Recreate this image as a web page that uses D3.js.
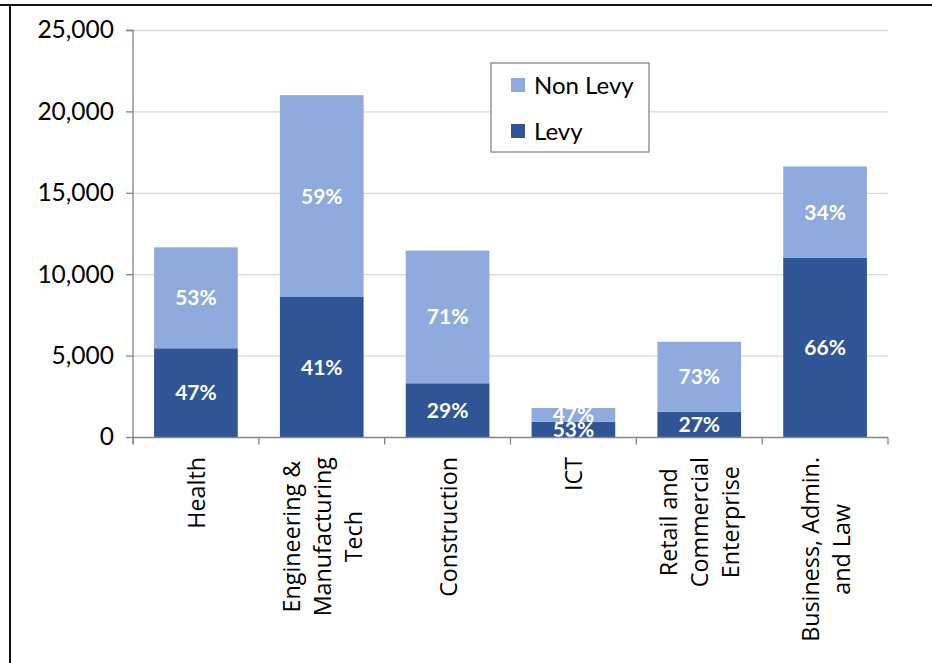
<!DOCTYPE html>
<html><head><meta charset="utf-8">
<script src="https://cdn.jsdelivr.net/npm/d3@7"></script>
<style>body{margin:0;background:#fff}svg{display:block}</style>
</head><body>
<svg id="chart" width="932" height="663"></svg>
<script>
const categories = [
  ["Health"],
  ["Engineering &", "Manufacturing", "Tech"],
  ["Construction"],
  ["ICT"],
  ["Retail and", "Commercial", "Enterprise"],
  ["Business, Admin.", "and Law"]
];
const levy    = [5450, 8600, 3300, 940, 1550, 11000];
const nonLevy = [6200, 12400, 8150, 840, 4300, 5620];
const levyPct    = ["47%", "41%", "29%", "53%", "27%", "66%"];
const nonLevyPct = ["53%", "59%", "71%", "47%", "73%", "34%"];
const yTicks = [0, 5000, 10000, 15000, 20000, 25000];
const seriesNames = ["Non Levy", "Levy"];
const colors = {"Levy": "#2F5597", "Non Levy": "#8FAADC"};

const svg = d3.select("#chart");
const pLeft = 133, pRight = 888, pTop = 30, pBottom = 437;

// outer frame
svg.append("line").attr("x1", 0).attr("x2", 932).attr("y1", 5).attr("y2", 5).attr("stroke", "#111").attr("stroke-width", 2);
svg.append("line").attr("x1", 10).attr("x2", 10).attr("y1", 4).attr("y2", 663).attr("stroke", "#111").attr("stroke-width", 2);

const x = d3.scaleBand().domain(d3.range(categories.length)).range([pLeft, pRight]).paddingInner(0.335).paddingOuter(0.1675);
const y = d3.scaleLinear().domain([0, 25000]).range([pBottom, pTop]);

// gridlines
svg.append("g").selectAll("line").data(yTicks.filter(d => d > 0)).join("line")
  .attr("x1", pLeft).attr("x2", pRight).attr("y1", d => y(d) + 0.5).attr("y2", d => y(d) + 0.5)
  .attr("stroke", "#d9d9d9").attr("stroke-width", 1.3);

// y axis
const yAxis = d3.axisLeft(y).tickValues(yTicks).tickSize(7).tickPadding(12).tickFormat(d3.format(","));
const gy = svg.append("g").attr("transform", `translate(${pLeft},0)`).call(yAxis);
gy.select(".domain").attr("stroke", "#868686").attr("stroke-width", 1.3).attr("d", `M-7,${pTop+0.5}H0V${pBottom+7}`);
gy.selectAll(".tick line").attr("stroke", "#868686").attr("stroke-width", 1.3);
gy.selectAll(".tick text").attr("font-family", "Lato, sans-serif").attr("font-size", 24.5).attr("fill", "#000");

// bars
const stacked = categories.map((c, i) => ({i, levy: levy[i], non: nonLevy[i]}));
const g = svg.append("g");
g.selectAll("rect.levy").data(stacked).join("rect").attr("class", "levy")
  .attr("x", d => x(d.i)).attr("width", x.bandwidth())
  .attr("y", d => y(d.levy)).attr("height", d => y(0) - y(d.levy))
  .attr("fill", colors["Levy"]);
g.selectAll("rect.non").data(stacked).join("rect").attr("class", "non")
  .attr("x", d => x(d.i)).attr("width", x.bandwidth())
  .attr("y", d => y(d.levy + d.non)).attr("height", d => y(d.levy) - y(d.levy + d.non))
  .attr("fill", colors["Non Levy"]);

// x axis
const gx = svg.append("g").attr("transform", `translate(0,${pBottom + 0.5})`);
gx.append("line").attr("x1", pLeft).attr("x2", pRight).attr("stroke", "#868686").attr("stroke-width", 1.3);
const edges = d3.range(categories.length + 1).map(i => pLeft + i * (pRight - pLeft) / categories.length);
gx.selectAll("line.t").data(edges).join("line").attr("class", "t")
  .attr("x1", d => d).attr("x2", d => d).attr("y1", 0).attr("y2", 7)
  .attr("stroke", "#868686").attr("stroke-width", 1.3);

// percent labels
const pctStyle = sel => sel.attr("font-family", "Lato, sans-serif").attr("font-weight", "bold")
  .attr("font-size", 21).attr("fill", "#fff").attr("text-anchor", "middle").attr("dy", "0.36em");
g.selectAll("text.lp").data(stacked).join("text").attr("class", "lp")
  .attr("x", d => x(d.i) + x.bandwidth() / 2).attr("y", d => (y(0) + y(d.levy)) / 2)
  .text(d => levyPct[d.i]).call(pctStyle);
g.selectAll("text.np").data(stacked).join("text").attr("class", "np")
  .attr("x", d => x(d.i) + x.bandwidth() / 2).attr("y", d => (y(d.levy) + y(d.levy + d.non)) / 2)
  .text(d => nonLevyPct[d.i]).call(pctStyle);

// category labels (rotated)
const lineH = 31;
categories.forEach((lines, i) => {
  const cx = x(i) + x.bandwidth() / 2;
  const grp = svg.append("g");
  const texts = lines.map((t, k) => grp.append("text")
    .attr("font-family", "'Open Sans', sans-serif").attr("font-size", 23.3)
    .attr("fill", "#000").attr("text-anchor", "middle").text(t));
  const maxW = d3.max(texts, t => t.node().getComputedTextLength());
  const cy = 457 + maxW / 2;
  texts.forEach((t, k) => {
    const lx = cx + (k - (lines.length - 1) / 2) * lineH;
    t.attr("transform", `translate(${lx + 9},${cy}) rotate(-90)`);
  });
});

// legend
const lg = svg.append("g");
lg.append("rect").attr("x", 491).attr("y", 63).attr("width", 158).attr("height", 89)
  .attr("fill", "#fff").attr("stroke", "#868686").attr("stroke-width", 1.3);
seriesNames.forEach((name, k) => {
  const yy = 78 + k * 46;
  lg.append("rect").attr("x", 511).attr("y", yy).attr("width", 14).attr("height", 14).attr("fill", colors[name]);
  lg.append("text").attr("x", 534).attr("y", yy + 16).attr("font-family", "Lato, sans-serif")
    .attr("font-size", 24).attr("fill", "#000").text(name);
});
</script>
</body></html>
